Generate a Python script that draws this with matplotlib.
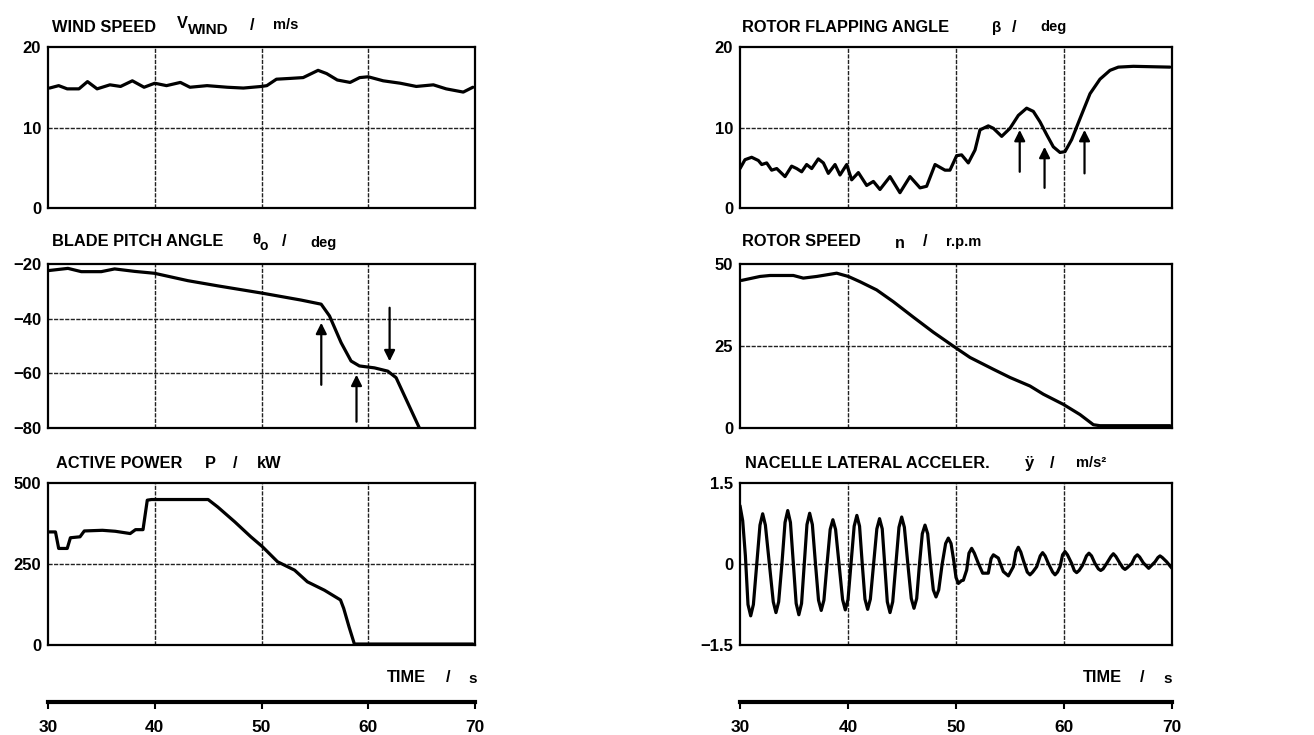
import matplotlib
matplotlib.use("Agg")
import matplotlib.pyplot as plt
from matplotlib import font_manager as fm

# ---------------- data ----------------
wind_t = [30.15, 31.0, 31.8, 32.9, 33.7, 34.6, 35.8, 36.8, 37.9, 39.0, 40.0, 41.1, 42.4, 43.3,
          44.9, 46.8, 48.3, 50.0, 50.5, 51.4, 52.7, 53.9, 55.3, 56.1, 57.1, 58.3, 59.2, 60.0,
          61.4, 63.0, 64.5, 66.1, 67.3, 68.9, 69.8]
wind_v = [14.9, 15.2, 14.8, 14.8, 15.7, 14.8, 15.3, 15.1, 15.8, 15.0, 15.5, 15.2, 15.6, 15.0,
          15.2, 15.0, 14.9, 15.1, 15.2, 16.0, 16.1, 16.2, 17.1, 16.7, 15.9, 15.6, 16.2, 16.3,
          15.8, 15.5, 15.1, 15.3, 14.8, 14.4, 15.0]

pitch_t = [30.06, 31.87, 33.12, 34.99, 36.24, 38.11, 39.98, 43.10, 45.91, 50.12, 53.71, 55.59,
           56.37, 57.46, 58.39, 59.17, 60.58, 61.83, 62.61, 63.70, 64.79]
pitch_v = [-22.4, -21.6, -22.8, -22.8, -21.8, -22.7, -23.4, -26.1, -28.0, -30.7, -33.2, -34.7,
           -39.0, -48.8, -55.5, -57.3, -58.0, -59.2, -61.6, -70.8, -80.0]
pitch_arrow_t = [55.6, 58.9, 62.0]
pitch_arrow_from = [-64.2, -77.7, -36.0]
pitch_arrow_to = [-41.5, -60.5, -55.6]

power_t = [30.0, 30.7, 31.0, 31.8, 32.1, 33.0, 33.4, 35.1, 36.3, 37.7, 38.2, 38.9, 39.3, 39.7,
           45.0, 45.9, 47.5, 49.0, 50.1, 51.5, 53.1, 54.3, 55.9, 57.4, 57.7, 58.2, 58.7, 69.8]
power_v = [349, 349, 298, 298, 331, 334, 352, 354, 351, 344, 356, 356, 447, 449,
           449, 426, 380, 334, 303, 257, 231, 195, 169, 139, 113, 56, 3, 3]

flap_t = [30.00, 30.46, 31.08, 31.70, 32.01, 32.47, 32.93, 33.40, 34.17, 34.78, 35.25, 35.71,
          36.17, 36.64, 37.25, 37.72, 38.18, 38.80, 39.26, 39.88, 40.34, 40.96, 41.73, 42.35,
          42.96, 43.89, 44.81, 45.74, 46.67, 47.28, 48.06, 48.98, 49.44, 50.06, 50.52, 51.14,
          51.76, 52.22, 52.99, 53.46, 54.23, 55.00, 55.77, 56.54, 57.16, 57.78, 58.40, 59.01,
          59.63, 60.09, 60.71, 61.48, 62.41, 63.33, 64.26, 65.03, 66.42, 69.81]
flap_v = [4.9, 6.0, 6.3, 5.9, 5.4, 5.6, 4.7, 4.9, 3.9, 5.2, 4.9, 4.5,
          5.4, 4.9, 6.1, 5.6, 4.3, 5.4, 4.1, 5.4, 3.5, 4.4, 2.8, 3.3,
          2.3, 3.9, 1.9, 3.9, 2.5, 2.7, 5.4, 4.7, 4.7, 6.5, 6.6, 5.6,
          7.2, 9.7, 10.2, 9.9, 8.9, 9.9, 11.5, 12.4, 12.0, 10.7, 9.1, 7.6,
          6.9, 7.0, 8.5, 11.1, 14.2, 16.0, 17.1, 17.5, 17.6, 17.5]
flap_arrow_t = [55.9, 58.2, 61.9]
flap_arrow_from = [4.5, 2.5, 4.3]
flap_arrow_to = [9.7, 7.6, 9.7]

rotor_t = [30.15, 31.85, 32.78, 34.94, 35.86, 37.10, 38.95, 40.03, 41.11, 42.65, 44.20, 46.05,
           47.90, 49.91, 51.30, 53.46, 55.00, 56.85, 58.09, 59.94, 61.48, 62.72, 63.33, 69.81]
rotor_v = [45.0, 46.2, 46.5, 46.5, 45.7, 46.2, 47.2, 46.2, 44.6, 42.1, 38.5, 33.8,
           29.2, 24.6, 21.5, 17.9, 15.4, 12.8, 10.3, 7.2, 4.1, 1.0, 0.7, 0.7]

acc_t = [30.00, 30.25, 30.50, 30.74, 30.99, 31.24, 31.55, 31.85, 32.10, 32.35, 32.72, 33.08,
         33.33, 33.58, 33.88, 34.17, 34.42, 34.67, 34.94, 35.20, 35.45, 35.70, 35.95, 36.20,
         36.45, 36.70, 36.99, 37.27, 37.52, 37.77, 38.06, 38.35, 38.60, 38.85, 39.17, 39.50,
         39.75, 40.00, 40.28, 40.57, 40.82, 41.07, 41.32, 41.57, 41.82, 42.07, 42.37, 42.67,
         42.92, 43.17, 43.40, 43.64, 43.89, 44.14, 44.43, 44.72, 44.97, 45.22, 45.54, 45.86,
         46.11, 46.36, 46.62, 46.88, 47.13, 47.38, 47.64, 47.90, 48.15, 48.40, 48.72, 49.04,
         49.29, 49.54, 49.80, 50.00, 50.22, 50.50, 50.68, 50.99, 51.20, 51.45, 51.70, 52.07,
         52.47, 52.99, 53.25, 53.46, 53.92, 54.38, 54.85, 55.31, 55.55, 55.77, 56.00, 56.23,
         56.60, 56.85, 57.10, 57.47, 57.80, 58.02, 58.25, 58.55, 58.95, 59.17, 59.40, 59.63,
         59.87, 60.09, 60.32, 60.71, 60.95, 61.17, 61.40, 61.73, 62.08, 62.31, 62.55, 62.87,
         63.18, 63.40, 63.62, 63.95, 64.35, 64.57, 64.80, 65.19, 65.45, 65.65, 65.85, 66.27,
         66.57, 66.79, 67.00, 67.35, 67.84, 68.43, 68.70, 68.89, 69.10, 69.51, 70.00]
acc_v = [1.08, 0.80, 0.15, -0.75, -0.96, -0.75, 0.00, 0.72, 0.93, 0.72, 0.00, -0.70,
         -0.90, -0.70, 0.00, 0.77, 0.99, 0.77, 0.00, -0.73, -0.94, -0.73, 0.00, 0.73,
         0.94, 0.73, 0.00, -0.67, -0.86, -0.67, 0.00, 0.64, 0.82, 0.64, 0.00, -0.66,
         -0.85, -0.66, 0.00, 0.70, 0.90, 0.70, 0.00, -0.65, -0.84, -0.65, 0.00, 0.65,
         0.84, 0.65, 0.00, -0.70, -0.90, -0.70, 0.00, 0.68, 0.87, 0.68, 0.00, -0.64,
         -0.82, -0.64, 0.00, 0.56, 0.72, 0.56, 0.00, -0.48, -0.61, -0.48, 0.00, 0.38,
         0.48, 0.38, 0.05, -0.25, -0.36, -0.31, -0.30, -0.11, 0.20, 0.29, 0.20, 0.01,
         -0.17, -0.17, 0.10, 0.17, 0.11, -0.14, -0.22, -0.05, 0.22, 0.31, 0.22, 0.07,
         -0.15, -0.20, -0.15, -0.05, 0.15, 0.21, 0.15, 0.01, -0.15, -0.20, -0.15, -0.05,
         0.17, 0.23, 0.17, 0.01, -0.12, -0.16, -0.12, -0.02, 0.15, 0.20, 0.15, 0.01,
         -0.09, -0.12, -0.09, 0.01, 0.14, 0.19, 0.14, 0.01, -0.07, -0.10, -0.07, 0.01,
         0.13, 0.17, 0.13, 0.02, -0.08, 0.04, 0.12, 0.15, 0.12, 0.04, -0.08]

time_ticks = [30, 40, 50, 60, 70]
# ---------------- style ----------------
names = {f.name for f in fm.fontManager.ttflist}
FONT = 'Liberation Sans Narrow' if 'Liberation Sans Narrow' in names else 'Liberation Sans'
plt.rcParams['font.family'] = [FONT, 'DejaVu Sans']
plt.rcParams['font.weight'] = 'bold'

W, H = 1314, 735
fig = plt.figure(figsize=(W / 100, H / 100), dpi=100)


def rect(x0, top, x1, bottom):
    return [x0 / W, 1 - bottom / H, (x1 - x0) / W, (bottom - top) / H]


def ftext(x, y, s, size=11.8, **kw):
    fig.text(x / W, 1 - y / H, s, fontsize=size, fontweight='bold', ha='left', va='center', **kw)


LX0, LX1 = 48, 475
RX0, RX1 = 740, 1172
ROWS = [(47, 208), (264, 428), (483, 645)]


def panel(x0, x1, row, t, v, ylim, yticks, ylabels):
    top, bot = ROWS[row]
    ax = fig.add_axes(rect(x0, top, x1, bot))
    ax.plot(t, v, color='black', lw=2.3, solid_joinstyle='round', solid_capstyle='round')
    ax.set_xlim(30, 70)
    ax.set_ylim(*ylim)
    ax.set_xticks([40, 50, 60])
    ax.set_xticklabels([])
    ax.set_yticks(yticks)
    ax.set_yticklabels(ylabels, fontsize=12, fontweight='bold')
    ax.tick_params(length=0, pad=5)
    ax.grid(True, color='#222222', lw=1.0, ls=(0, (3, 1)))
    ax.yaxis.get_gridlines()[0].set_visible(False)
    ax.yaxis.get_gridlines()[-1].set_visible(False)
    for s in ax.spines.values():
        s.set_linewidth(1.6)
    return ax


# left column
panel(LX0, LX1, 0, wind_t, wind_v, (0, 20), [0, 10, 20], ['0', '10', '20'])
axp = panel(LX0, LX1, 1, pitch_t, pitch_v, (-80, -20), [-80, -60, -40, -20],
            ['−80', '−60', '−40', '−20'])
for tt, a, b in zip(pitch_arrow_t, pitch_arrow_from, pitch_arrow_to):
    axp.annotate('', xy=(tt, b), xytext=(tt, a),
                 arrowprops=dict(arrowstyle='-|>', color='black', lw=1.6,
                                 mutation_scale=16, shrinkA=0, shrinkB=0))
panel(LX0, LX1, 2, power_t, power_v, (0, 500), [0, 250, 500], ['0', '250', '500'])

# right column
axf = panel(RX0, RX1, 0, flap_t, flap_v, (0, 20), [0, 10, 20], ['0', '10', '20'])
for tt, a, b in zip(flap_arrow_t, flap_arrow_from, flap_arrow_to):
    axf.annotate('', xy=(tt, b), xytext=(tt, a),
                 arrowprops=dict(arrowstyle='-|>', color='black', lw=1.6,
                                 mutation_scale=16, shrinkA=0, shrinkB=0))
panel(RX0, RX1, 1, rotor_t, rotor_v, (0, 50), [0, 25, 50], ['0', '25', '50'])
panel(RX0, RX1, 2, acc_t, acc_v, (-1.5, 1.5), [-1.5, 0, 1.5], ['−1.5', '0', '1.5'])

# time scale bars
for x0, x1 in [(LX0, LX1), (RX0, RX1)]:
    axt = fig.add_axes(rect(x0, 701, x1, 702))
    axt.set_xlim(30, 70)
    axt.set_yticks([])
    axt.set_xticks(time_ticks)
    axt.set_xticklabels([str(v) for v in time_ticks], fontsize=12.5, fontweight='bold')
    axt.tick_params(axis='x', length=5, width=1.5, pad=8, direction='out')
    for k in ['top', 'left', 'right']:
        axt.spines[k].set_visible(False)
    axt.spines['bottom'].set_linewidth(3.0)
    axt.patch.set_visible(False)

# titles
ftext(52, 27, 'WIND SPEED')
ftext(177, 24, 'V')
ftext(188, 30, 'WIND', size=11)
ftext(250, 25, '/')
ftext(273, 25, 'm/s', size=10.5)

ftext(52, 242, 'BLADE PITCH ANGLE')
ftext(252, 240, 'θ', size=11)
ftext(260, 246, 'o', size=10)
ftext(282, 242, '/')
ftext(310, 243, 'deg', size=10.5)

ftext(56, 463, 'ACTIVE POWER')
ftext(205, 463, 'P')
ftext(233, 463, '/')
ftext(257, 463, 'kW')

ftext(742, 27, 'ROTOR FLAPPING ANGLE')
ftext(992, 28, 'β', size=11)
ftext(1012, 27, '/')
ftext(1040, 27, 'deg', size=10.5)

ftext(742, 241, 'ROTOR SPEED')
ftext(895, 243, 'n', size=11.5)
ftext(923, 241, '/')
ftext(946, 242, 'r.p.m', size=10.5)

ftext(745, 463, 'NACELLE LATERAL ACCELER.')
ftext(1025, 464, 'ÿ', size=12)
ftext(1050, 463, '/')
ftext(1076, 463, 'm/s²', size=10.5)

ftext(387, 678, 'TIME')
ftext(446, 678, '/')
ftext(468, 679, 's', size=11)
ftext(1083, 678, 'TIME')
ftext(1140, 678, '/')
ftext(1163, 679, 's', size=11)

fig.savefig('out.png', dpi=100)
